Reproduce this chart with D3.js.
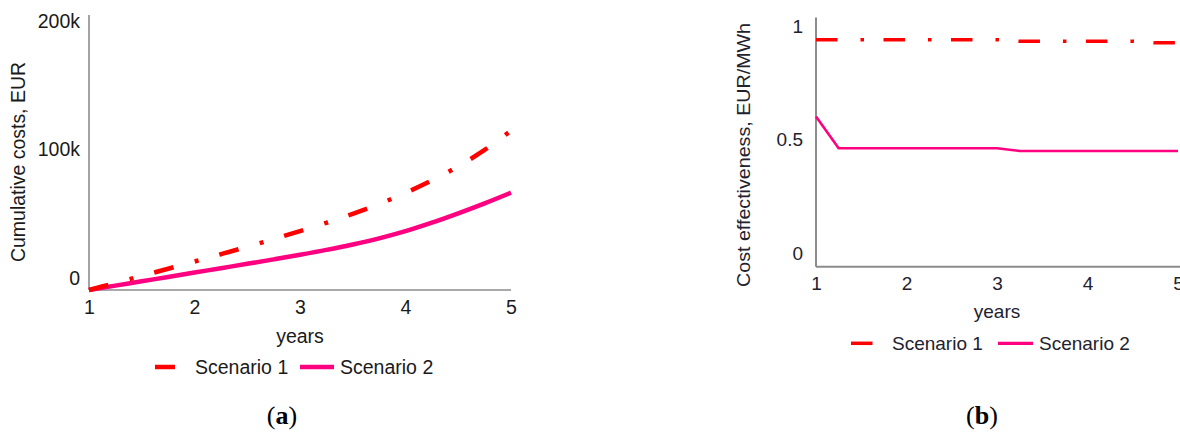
<!DOCTYPE html>
<html><head><meta charset="utf-8">
<script src="https://cdn.jsdelivr.net/npm/d3@7"></script>
<style>html,body{margin:0;padding:0;background:#fff;} svg{display:block;}</style>
</head><body>
<svg id="c" width="1180" height="432"></svg>
<script>
// ---- data ----
const years = [1,1.25,1.5,1.75,2,2.25,2.5,2.75,3,3.25,3.5,3.75,4,4.25,4.5,4.75,5];
// (a) cumulative costs, EUR
const costS1 = [-9400,-3900,1600,7200,12800,18500,24300,30300,36500,43000,50000,57700,66300,76000,87000,99800,114800];
const costS2 = [-9400,-6000,-2600,800,4200,7600,11000,14500,18100,21900,26100,30900,36500,43100,50400,58200,66500];
// (b) cost effectiveness, EUR/MWh
const effS1 = [0.942,0.942,0.942,0.942,0.942,0.942,0.942,0.942,0.942,0.935,0.935,0.935,0.935,0.935,0.935,0.928,0.928];
const effS2 = [0.603,0.463,0.463,0.463,0.463,0.463,0.463,0.463,0.463,0.451,0.451,0.451,0.451,0.451,0.451,0.451,0.451];
const yearTicks = [1,2,3,4,5];
const costTicks = [0,100000,200000];
const costTickLabels = ["0","100k","200k"];
const effTicks = [0,0.5,1];
const effTickLabels = ["0","0.5","1"];
const seriesNames = ["Scenario 1","Scenario 2"];

// ---- styles ----
const RED = "#ff0000", MAG = "#ff0080", AX = "#8c8c8c";
const svg = d3.select("#c");
const sans = "'Liberation Sans', Arial, sans-serif";

function drawPanel(o){
  const g = svg.append("g");
  const x = d3.scaleLinear().domain([1,5]).range(o.xr);
  const y = d3.scaleLinear().domain(o.yd).range(o.yr);
  g.append("line").attr("x1",o.xr[0]).attr("x2",o.xr[0]).attr("y1",o.yr[0]).attr("y2",o.yr[1])
    .attr("stroke",AX).attr("stroke-width",o.axw);
  g.append("line").attr("x1",o.xr[0]).attr("x2",o.xEnd).attr("y1",o.yr[0]).attr("y2",o.yr[0])
    .attr("stroke",AX).attr("stroke-width",o.axw);
  const ya = g.append("g").attr("transform",`translate(${o.xr[0]},0)`)
    .call(d3.axisLeft(y).tickValues(o.yt).tickFormat((d,i)=>o.ytl[i]).tickSize(0).tickPadding(o.ypad));
  ya.select(".domain").remove();
  ya.selectAll("text").attr("font-family",sans).attr("font-size",o.fs).attr("fill",o.tc);
  const xa = g.append("g").attr("transform",`translate(0,${o.yr[0]})`)
    .call(d3.axisBottom(x).tickValues(yearTicks).tickFormat(d3.format("d")).tickSize(0));
  xa.select(".domain").remove();
  xa.selectAll("text").attr("y",o.xlab).attr("dy","0.35em")
    .attr("font-family",sans).attr("font-size",o.fs).attr("fill",o.tc);
  g.append("text").attr("x",(o.xr[0]+x(5))/2).attr("y",o.yearsY).attr("dy","0.35em")
    .attr("text-anchor","middle").attr("font-family",sans).attr("font-size",o.fs).attr("fill",o.tc).text("years");
  const yt = g.append("text").attr("transform",`translate(${o.ytX},${o.ytY}) rotate(-90)`)
    .attr("dy","0.35em").attr("text-anchor","middle").attr("font-family",sans)
    .attr("font-size",o.yfs).attr("fill",o.tc).text(o.ytitle);
  if(o.ytLen) yt.attr("textLength",o.ytLen).attr("lengthAdjust","spacingAndGlyphs");
  const line = d3.line().x((d,i)=>x(years[i])).y(d=>y(d)).curve(o.curve);
  g.append("path").datum(o.s2).attr("d",line).attr("fill","none").attr("stroke",MAG)
    .attr("stroke-width",o.w2);
  g.append("path").datum(o.s1).attr("d",line).attr("fill","none").attr("stroke",RED)
    .attr("stroke-width",o.w1).attr("stroke-dasharray",o.dash);
  const L = o.leg;
  g.append("line").attr("x1",L.r0).attr("x2",L.r0+34).attr("y1",L.y).attr("y2",L.y)
    .attr("stroke",RED).attr("stroke-width",o.w1).attr("stroke-dasharray",o.dash);
  g.append("text").attr("x",L.t1).attr("y",L.y).attr("dy","0.35em").attr("font-family",sans)
    .attr("font-size",o.fs).attr("fill",o.tc).text(seriesNames[0]);
  g.append("line").attr("x1",L.m0).attr("x2",L.m1).attr("y1",L.y).attr("y2",L.y)
    .attr("stroke",MAG).attr("stroke-width",L.mw);
  g.append("text").attr("x",L.t2).attr("y",L.y).attr("dy","0.35em").attr("font-family",sans)
    .attr("font-size",o.fs).attr("fill",o.tc).text(seriesNames[1]);
  const cap = g.append("text").attr("x",o.capX).attr("y",o.capY).attr("dy","0.35em")
    .attr("text-anchor","middle").attr("font-family","'Liberation Serif', 'Times New Roman', serif")
    .attr("font-size",26).attr("fill","#000");
  cap.append("tspan").text("(");
  cap.append("tspan").attr("font-weight","bold").text(o.capL);
  cap.append("tspan").text(")");
}

drawPanel({
  xr:[89,511], xEnd:511, yd:[-9400,205000], yr:[290,15], axw:1.6,
  yt:costTicks, ytl:costTickLabels, ypad:9, fs:19.5, tc:"#1a1a1a", xlab:17.5,
  yearsY:336, ytX:18, ytY:162, yfs:19.5, ytitle:"Cumulative costs, EUR", ytLen:200,
  s1:costS1, s2:costS2, w1:4.5, w2:4.5, dash:"20,22,4,21.5", curve:d3.curveMonotoneX,
  leg:{y:367, r0:155, t1:195, m0:300, m1:334, t2:340, mw:4.5},
  capX:282, capY:415, capL:"a"
});
drawPanel({
  xr:[816,1178], xEnd:1182, yd:[-0.06,1.04], yr:[266.7,17.5], axw:2,
  yt:effTicks, ytl:effTickLabels, ypad:13, fs:19, tc:"#22222e", xlab:16.6,
  yearsY:311.7, ytX:744, ytY:155, yfs:18, ytitle:"Cost effectiveness, EUR/MWh", ytLen:264,
  s1:effS1, s2:effS2, w1:3.5, w2:2.6, dash:"21.5,23,3.5,19.5", curve:d3.curveLinear,
  leg:{y:343.3, r0:851, t1:892, m0:998, m1:1033, t2:1039, mw:3.2},
  capX:982, capY:415, capL:"b"
});
</script>
</body></html>
